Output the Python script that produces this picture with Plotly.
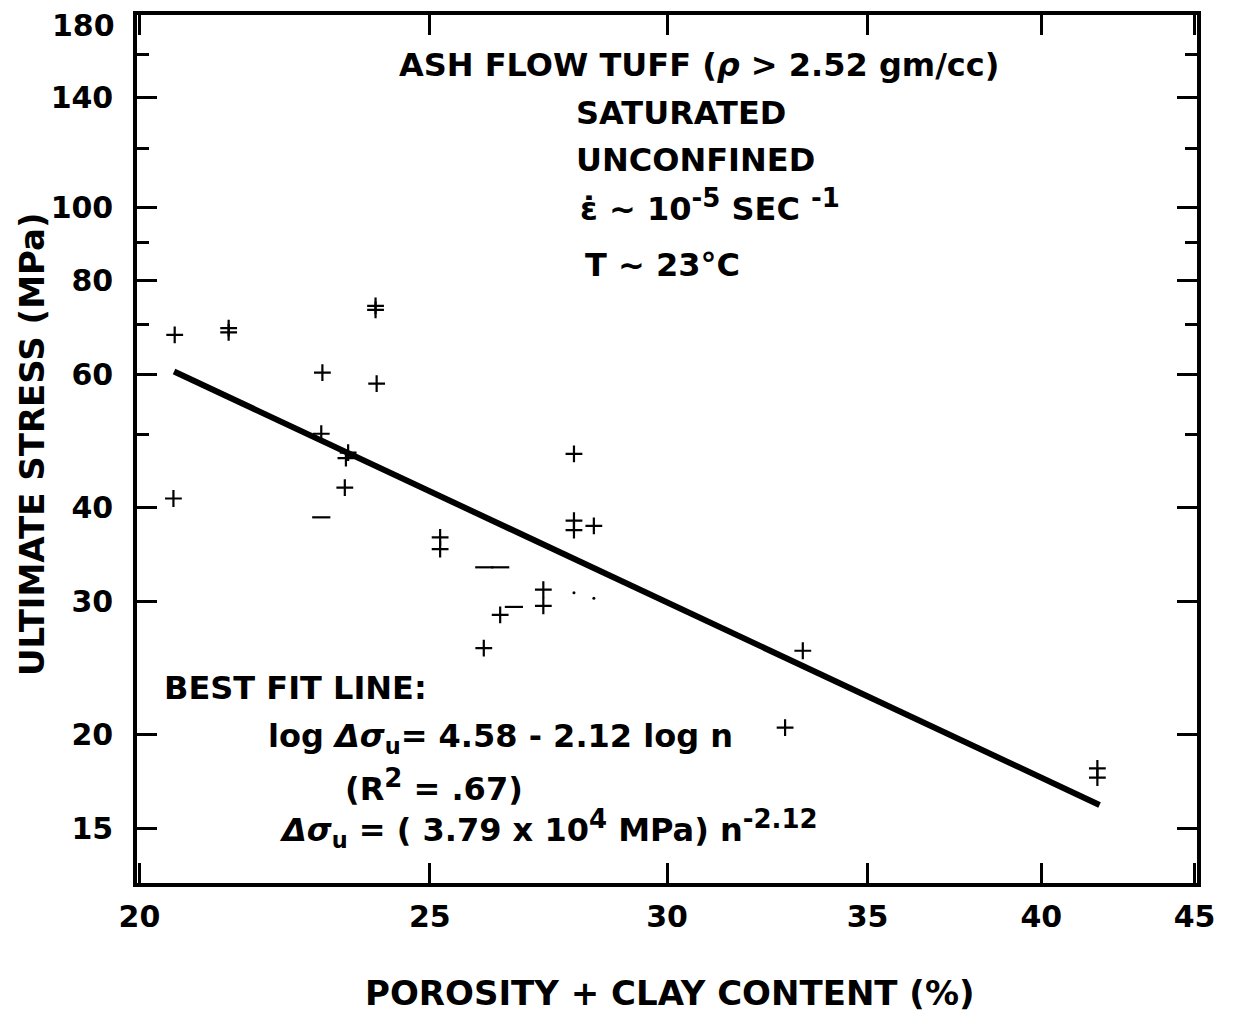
import math
import plotly.graph_objects as go

# ---- data ----
# plus-shaped markers: porosity + clay content (%), ultimate stress (MPa)
cross_x = [20.55, 21.42, 21.42, 23.98, 23.98, 23.02, 24.0, 23.0, 23.44, 23.48, 23.42, 20.53,
           25.2, 25.2, 27.93, 27.93, 27.93, 28.36, 27.28, 27.28, 26.39, 26.06,
           33.3, 32.85, 41.76, 41.76]
cross_y = [67.8, 68.3, 69.2, 73.2, 74.1, 60.4, 58.4, 50.1, 46.5, 47.3, 42.5, 41.1,
           36.5, 35.2, 47.1, 38.4, 37.3, 37.8, 31.1, 29.6, 28.8, 26.0,
           25.8, 20.4, 17.5, 18.0]
# dash-shaped markers (horizontal bar only)
dash_x = [23.0, 26.07, 26.39, 26.67]
dash_y = [38.8, 33.3, 33.3, 29.5]
# faint dots
dot_x = [27.93, 28.36]
dot_y = [30.8, 30.3]
# drawn best-fit line end points
fit_x = [20.54, 41.83]
fit_y = [60.6, 16.1]

x_ticks = [20, 25, 30, 35, 40, 45]
y_ticks = [15, 20, 30, 40, 60, 80, 100, 140, 180]
y_minor = [50, 70, 90, 120, 160]
x_range = [20, 45]
y_range = [12.68, 180]

FONT = "DejaVu Sans"

fig = go.Figure()
fig.add_trace(go.Scatter(x=fit_x, y=fit_y, mode="lines",
                         line=dict(color="black", width=6), showlegend=False))
fig.add_trace(go.Scatter(x=cross_x, y=cross_y, mode="markers",
                         marker=dict(symbol="cross-thin", size=12, color="black",
                                     line=dict(width=2.2, color="black")),
                         showlegend=False))
fig.add_trace(go.Scatter(x=dash_x, y=dash_y, mode="markers",
                         marker=dict(symbol="line-ew", size=13, color="black",
                                     line=dict(width=2.2, color="black")),
                         showlegend=False))
fig.add_trace(go.Scatter(x=dot_x, y=dot_y, mode="markers",
                         marker=dict(symbol="circle", size=3, color="black"),
                         showlegend=False))

# the top label (180) sits a little below its tick in the reference; it is drawn
# as an annotation further down, so its tick text is left blank here
y_ticktext = [str(v) if v != y_range[1] else "" for v in y_ticks]

eps = 0.0008
fig.update_xaxes(type="log",
                 range=[math.log10(x_range[0]) - eps, math.log10(x_range[1]) + eps],
                 tickmode="array", tickvals=x_ticks, ticktext=[str(v) for v in x_ticks],
                 ticks="inside", ticklen=20, tickwidth=2.5, tickcolor="black",
                 ticklabelstandoff=4, ticklabeloverflow="allow", automargin=False,
                 showline=True, linewidth=3.5, linecolor="black", mirror="ticks",
                 showgrid=False, zeroline=False,
                 tickfont=dict(family=FONT, size=30, color="black", weight="bold"))
fig.update_yaxes(type="log",
                 range=[math.log10(y_range[0]), math.log10(y_range[1]) + eps],
                 tickmode="array", tickvals=y_ticks, ticktext=y_ticktext,
                 ticks="inside", ticklen=20, tickwidth=2.5, tickcolor="black",
                 ticklabelstandoff=14, ticklabeloverflow="allow", automargin=False,
                 minor=dict(tickmode="array", tickvals=y_minor, ticks="inside",
                            ticklen=12, tickwidth=2.5, tickcolor="black", showgrid=False),
                 showline=True, linewidth=3.5, linecolor="black", mirror="ticks",
                 showgrid=False, zeroline=False,
                 tickfont=dict(family=FONT, size=30, color="black", weight="bold"))

L, R, T, B = 137, 1197, 15, 883
W, H = 1238, 1012


def px(xp):
    return (xp - L) / (R - L)


def py(yp):
    return (B - yp) / (B - T)


def note(text, x, y, anchor="left", size=32, angle=0):
    fig.add_annotation(text=text, xref="paper", yref="paper", x=px(x), y=py(y),
                       xanchor=anchor, yanchor="middle", showarrow=False, textangle=angle,
                       font=dict(family=FONT, size=size, color="black", weight="bold"))


def big_sup(s):
    return '<sup><span style="font-size:26px">' + s + '</span></sup>'


note(str(y_range[1]), 117, 26, anchor="right", size=30)

note("ASH FLOW TUFF (<i>ρ</i> > 2.52 gm/cc)", 699, 65, anchor="center")
note("SATURATED", 574, 113)
note("UNCONFINED", 574, 160)
note("ε̇ ~ 10" + big_sup("-5") + " SEC " + big_sup("-1"), 578, 206)
note("T ~ 23°C", 583, 265)
note("BEST FIT LINE:", 162, 688)
note("log <i>Δσ</i><sub>u</sub>= 4.58 - 2.12 log n", 500, 738, anchor="center")
note("(R" + big_sup("2") + " = .67)", 434, 785, anchor="center")
note("<i>Δσ</i><sub>u</sub> = ( 3.79 x 10" + big_sup("4") + " MPa) n" + big_sup("-2.12"),
     548, 828, anchor="center")

note("ULTIMATE STRESS (MPa)", 32, 445, anchor="center", size=34, angle=-90)
note("POROSITY + CLAY CONTENT (%)", 670, 993, anchor="center", size=34)

fig.update_layout(width=W, height=H, margin=dict(l=L, r=W - R, t=T, b=H - B,
                                                 autoexpand=False),
                  plot_bgcolor="white", paper_bgcolor="white",
                  font=dict(family=FONT, color="black"))

fig.write_html("out.html")
